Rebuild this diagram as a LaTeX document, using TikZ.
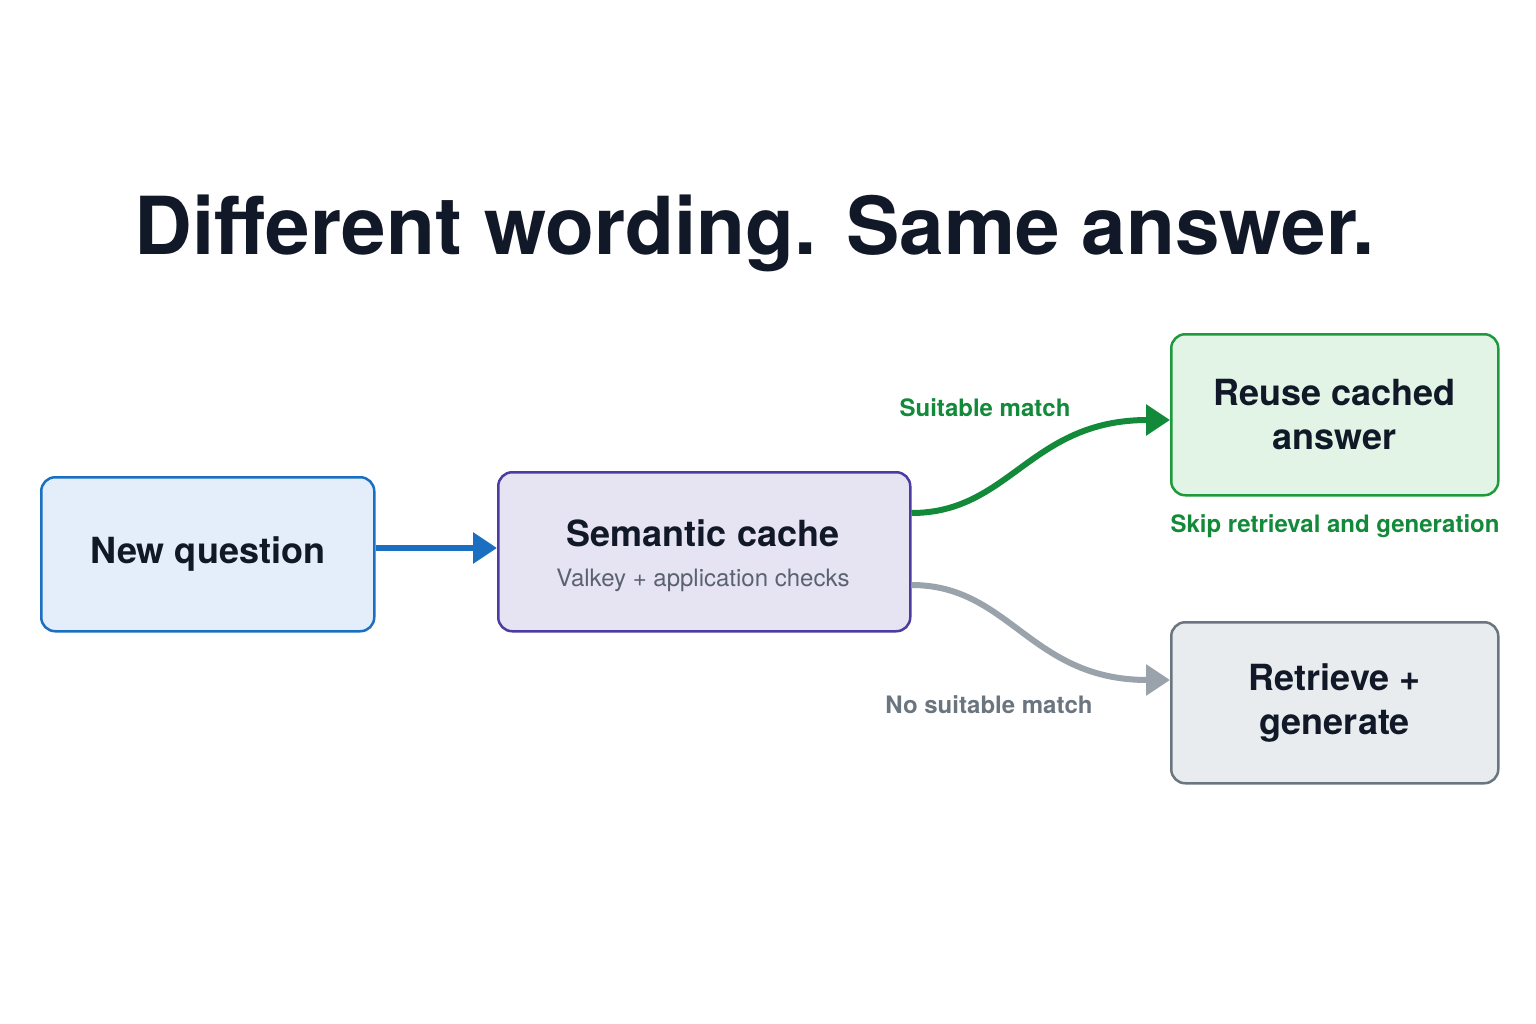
\documentclass[tikz,border=0pt]{standalone}
\usepackage{fontspec}
\setmainfont{TeX Gyre Heros}
\usetikzlibrary{arrows.meta}
\definecolor{bluef}{HTML}{E3EEFA}\definecolor{bluel}{HTML}{1A6FC0}
\definecolor{purf}{HTML}{E6E3F3}\definecolor{purl}{HTML}{4A3CA0}
\definecolor{grnf}{HTML}{E1F4E5}\definecolor{grnl}{HTML}{1E9A3C}\definecolor{grnt}{HTML}{128A3A}
\definecolor{gryf}{HTML}{E9ECEF}\definecolor{gryl}{HTML}{6B7580}\definecolor{gryt}{HTML}{5A6270}
\definecolor{ink}{HTML}{111827}\definecolor{garr}{HTML}{9AA2AB}
\tikzset{
 box/.style={draw, line width=2.5pt, rounded corners=14pt, anchor=north west, inner sep=0pt, align=center, text=ink, font=\bfseries\fontsize{36}{44}\selectfont},
 arr/.style={line width=6pt, -{Triangle[length=24pt,width=30pt]}},
 lab/.style={font=\bfseries\fontsize{24}{28}\selectfont}
}
\begin{document}
\begin{tikzpicture}[x=1pt,y=-1pt]
\useasboundingbox[fill=white] (0,0) rectangle (1536,1024);
\node[font=\bfseries\fontsize{80}{90}\selectfont, text=ink] (t) at (755,233) {Different wording. Same answer.};
\node[box, fill=bluef, draw=bluel, minimum width=333pt, minimum height=154pt] (nq) at (40,476) {New question};
\node[box, fill=purf, draw=purl, minimum width=412pt, minimum height=159pt] (sc) at (497,471) {};
\node[text=ink, font=\bfseries\fontsize{36}{44}\selectfont] (sct) at (703,533) {Semantic cache};
\node[text=gryt, font=\fontsize{24}{28}\selectfont] (scs) at (703,580) {Valkey + application checks};
\node[box, fill=grnf, draw=grnl, minimum width=327pt, minimum height=161pt] (re) at (1170,333) {Reuse cached\\answer};
\node[box, fill=gryf, draw=gryl, minimum width=327pt, minimum height=161pt] (rg) at (1170,621) {Retrieve +\\generate};
\coordinate (b0) at (nq.east|-0,548);
\coordinate (b1) at (sc.west|-0,548);
\draw[arr, draw=bluel] (b0) -- (b1);
\coordinate (g0) at (sc.east|-0,513);
\coordinate (g1) at (re.west|-0,420);
\draw[arr, draw=grnt] (g0) .. controls (1010,513) and (1030,420) .. (g1);
\coordinate (h0) at (sc.east|-0,585);
\coordinate (h1) at (rg.west|-0,680);
\draw[arr, draw=garr] (h0) .. controls (1010,585) and (1030,680) .. (h1);
\node[lab, text=grnt] (l1) at (985,408) {Suitable match};
\node[lab, text=grnt] (l2) at (1335,526) {Skip retrieval and generation};
\node[lab, text=gryl] (l3) at (989,705) {No suitable match};
\end{tikzpicture}
\end{document}
